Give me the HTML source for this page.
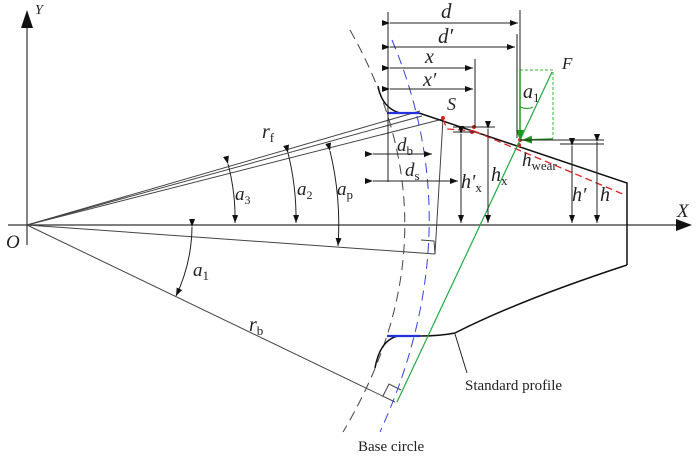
<!DOCTYPE html>
<html><head><meta charset="utf-8"><style>
html,body{margin:0;padding:0;background:#fff}
svg{display:block}
text{font-family:"Liberation Serif",serif;fill:#222}
.i{font-style:italic}
</style></head><body>
<svg width="700" height="456" viewBox="0 0 700 456" xmlns="http://www.w3.org/2000/svg">
<defs>
<marker id="ar" markerWidth="8" markerHeight="6" refX="8" refY="3" orient="auto" markerUnits="userSpaceOnUse"><path d="M0,0 L8,3 L0,6z" fill="#111"/></marker>
<marker id="ag" markerWidth="10" markerHeight="8" refX="10" refY="4" orient="auto" markerUnits="userSpaceOnUse"><path d="M0,0 L10,4 L0,8z" fill="#1a9a1a"/></marker>
</defs>
<g stroke="#333" stroke-width="1.2" fill="none">
<line x1="8" y1="225" x2="676" y2="225"/>
<line x1="27" y1="245" x2="27" y2="28"/>
</g>
<path d="M676,219 L692,225 L676,231z" fill="#111"/>
<path d="M21,28 L27,10 L33,28z" fill="#111"/>
<g stroke="#444" stroke-width="1" fill="none">
<line x1="27" y1="225" x2="420" y2="111"/>
<line x1="27" y1="225" x2="422" y2="116"/>
<line x1="27" y1="225" x2="443" y2="119"/>
<line x1="27" y1="225" x2="435" y2="254"/>
<line x1="27" y1="225" x2="395" y2="402"/>
<line x1="443" y1="119" x2="435" y2="254"/>
<polyline points="421,240 434,241 435,254"/>
<polyline points="383,396 389,384 401,390"/>
<path d="M350,30 Q463,230 343,432" stroke-dasharray="10,6"/>
</g>
<path d="M392,40 Q472,230 380,432" stroke="#3344dd" stroke-width="1" fill="none" stroke-dasharray="10,6"/>
<g stroke="#111" stroke-width="1.5" fill="none">
<path d="M378,86 Q382,108 400,113"/>
<path d="M419,113 L627,183 L627,265"/>
<path d="M627,265 Q520,300 455,333 Q440,336 420,336"/>
<path d="M375,368 Q380,340 398,336"/>
</g>
<line x1="387" y1="113" x2="419" y2="113" stroke="#2233dd" stroke-width="2.2"/>
<line x1="387" y1="336" x2="420" y2="336" stroke="#2233dd" stroke-width="2.2"/>
<path d="M443,119 L447,129 L474,131 M474,131 L625,195" stroke="#e02020" stroke-width="1.3" fill="none" stroke-dasharray="7,4"/>
<g fill="#e02020"><circle cx="443" cy="118" r="2"/><circle cx="474" cy="127" r="2"/><circle cx="472" cy="132" r="2"/><circle cx="520" cy="140" r="2"/><circle cx="519" cy="145" r="2"/></g>
<line x1="397" y1="402" x2="552" y2="72" stroke="#22aa44" stroke-width="1.2"/>
<path d="M520,70 L553,70 L553,138" stroke="#33bb33" stroke-width="1" fill="none" stroke-dasharray="3,2"/>
<line x1="520" y1="70" x2="520" y2="140" stroke="#1a9a1a" stroke-width="1.5" marker-end="url(#ag)"/>
<line x1="553" y1="139" x2="522" y2="140" stroke="#1a9a1a" stroke-width="1.5" marker-end="url(#ag)"/>
<path d="M520,107 Q528,110 533,107" stroke="#1a9a1a" fill="none"/>
<g stroke="#222" stroke-width="1" fill="none">
<line x1="388" y1="12" x2="388" y2="182"/>
<line x1="520" y1="10" x2="520" y2="70"/>
<line x1="517" y1="34" x2="517" y2="138"/>
<line x1="475" y1="59" x2="475" y2="127"/>
<line x1="453" y1="127" x2="495" y2="127"/>
<line x1="453" y1="132" x2="475" y2="132"/>
<line x1="520" y1="140" x2="604" y2="140"/>
<line x1="560" y1="144" x2="604" y2="144"/>
<line x1="390" y1="23" x2="518" y2="23" marker-start="url(#ar)" marker-end="url(#ar)"/>
<line x1="390" y1="47" x2="515" y2="47" marker-start="url(#ar)" marker-end="url(#ar)"/>
<line x1="390" y1="68" x2="473" y2="68" marker-start="url(#ar)" marker-end="url(#ar)"/>
<line x1="390" y1="89" x2="473" y2="89" marker-start="url(#ar)" marker-end="url(#ar)"/>
<line x1="373" y1="154" x2="432" y2="154" marker-start="url(#ar)" marker-end="url(#ar)"/>
<line x1="373" y1="181" x2="458" y2="181" marker-start="url(#ar)" marker-end="url(#ar)"/>
<line x1="461" y1="134" x2="461" y2="223" marker-start="url(#ar)" marker-end="url(#ar)"/>
<line x1="488" y1="129" x2="488" y2="223" marker-start="url(#ar)" marker-end="url(#ar)"/>
<line x1="572" y1="146" x2="572" y2="223" marker-start="url(#ar)" marker-end="url(#ar)"/>
<line x1="597" y1="142" x2="597" y2="223" marker-start="url(#ar)" marker-end="url(#ar)"/>
<path d="M228,164 A210,210 0 0 1 235,223" marker-start="url(#ar)" marker-end="url(#ar)"/>
<path d="M288,153 A270,270 0 0 1 296,223" marker-start="url(#ar)" marker-end="url(#ar)"/>
<path d="M330,151 A312,312 0 0 1 338,246" marker-start="url(#ar)" marker-end="url(#ar)"/>
<path d="M192,227 A165,165 0 0 1 176,296" marker-start="url(#ar)" marker-end="url(#ar)"/>
<line x1="455" y1="334" x2="467" y2="373"/>
</g>
<text x="6" y="248" font-size="19" class="i">O</text>
<text x="35" y="14" font-size="14" class="i">Y</text>
<text x="677" y="217" font-size="19" class="i">X</text>
<text x="441" y="18" font-size="21" class="i">d</text>
<text x="438" y="43" font-size="21" class="i">d′</text>
<text x="425" y="63" font-size="20" class="i">x</text>
<text x="423" y="86" font-size="20" class="i">x′</text>
<text x="447" y="110" font-size="18" class="i">S</text>
<text x="562" y="69" font-size="17" class="i">F</text>
<text x="523" y="98" font-size="20" class="i">a<tspan font-size="13" font-style="normal" dy="4">1</tspan></text>
<text x="262" y="138" font-size="20" class="i">r<tspan font-size="13" font-style="normal" dy="4">f</tspan></text>
<text x="235" y="200" font-size="19" class="i">a<tspan font-size="12" font-style="normal" dy="4">3</tspan></text>
<text x="297" y="195" font-size="19" class="i">a<tspan font-size="12" font-style="normal" dy="4">2</tspan></text>
<text x="337" y="195" font-size="19" class="i">a<tspan font-size="13" font-style="normal" dy="4">p</tspan></text>
<text x="193" y="276" font-size="19" class="i">a<tspan font-size="13" font-style="normal" dy="4">1</tspan></text>
<text x="249" y="331" font-size="20" class="i">r<tspan font-size="13" font-style="normal" dy="4">b</tspan></text>
<text x="397" y="151" font-size="19" class="i">d<tspan font-size="13" font-style="normal" dy="4">b</tspan></text>
<text x="405" y="176" font-size="19" class="i">d<tspan font-size="13" font-style="normal" dy="4">s</tspan></text>
<text x="461" y="188" font-size="20" class="i">h′<tspan font-size="13" font-style="normal" dy="4">x</tspan></text>
<text x="491" y="181" font-size="20" class="i">h<tspan font-size="13" font-style="normal" dy="4">x</tspan></text>
<text x="522" y="166" font-size="19" class="i">h<tspan font-size="13" font-style="normal" dy="4">wear</tspan></text>
<text x="572" y="201" font-size="20" class="i">h′</text>
<text x="600" y="201" font-size="20" class="i">h</text>
<text x="465" y="390" font-size="15">Standard profile</text>
<text x="358" y="451" font-size="15">Base circle</text>
</svg>
</body></html>
